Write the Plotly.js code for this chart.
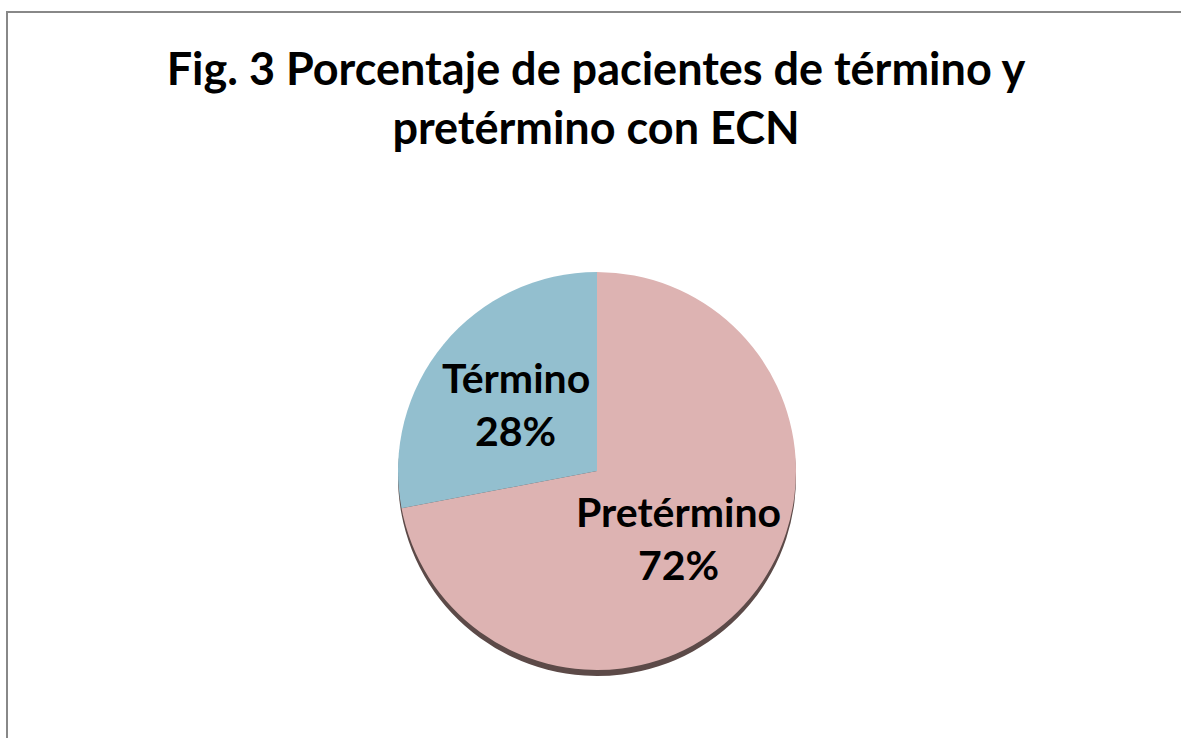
<!DOCTYPE html>
<html><head><meta charset="utf-8">
<script src="https://cdn.plot.ly/plotly-3.0.1.min.js"></script>
<style>html,body{margin:0;padding:0;background:#fff;overflow:hidden}#chart{width:1181px;height:738px}</style>
</head><body><div id="chart"></div>
<script>
// ---- data ----
const categories = ['Pretérmino', 'Término'];
const values = [72, 28];
const sliceColors = ['#ddb3b2', '#93bfcf'];
const shadowColor = '#5c4a48';
const titleText = 'Fig. 3 Porcentaje de pacientes de término y<br>pretérmino con ECN';

// ---- layout helpers ----
const W = 1181, H = 738;
const cx = 597, cy = 471, r = 199;
const px2x = p => p / W;
const py2y = p => 1 - p / H;
const domain = {x: [px2x(cx - r), px2x(cx + r)], y: [py2y(cy + r), py2y(cy - r)]};
const shadowOffset = 6;
const shadowDomain = {x: domain.x, y: [py2y(cy + r + shadowOffset), py2y(cy - r + shadowOffset)]};
const FONT = 'Lato, "Open Sans", sans-serif';

const total = values.reduce((a, b) => a + b, 0);
const annotations = [];
let cum = 0;
values.forEach((v, i) => {
  const mid = (cum + v / 2) / total * 2 * Math.PI; cum += v;
  const lx = cx + Math.sin(mid) * r * 0.53;
  const ly = cy - Math.cos(mid) * r * 0.53;
  const pct = Math.round(v / total * 100) + '%';
  const f = {family: FONT, size: 41, color: '#000', weight: 700};
  annotations.push({xref: 'paper', yref: 'paper', x: px2x(lx), y: py2y(ly), text: categories[i], showarrow: false, yshift: 26.5, font: f, xanchor: 'center', yanchor: 'middle'});
  annotations.push({xref: 'paper', yref: 'paper', x: px2x(lx), y: py2y(ly), text: pct, showarrow: false, yshift: -26.5, font: f, xanchor: 'center', yanchor: 'middle'});
});

const traces = [
  {type: 'pie', labels: categories, values: values, sort: false, direction: 'clockwise', rotation: 0,
   domain: shadowDomain, marker: {colors: categories.map(() => shadowColor), line: {width: 0}},
   textinfo: 'none', hoverinfo: 'skip', showlegend: false},
  {type: 'pie', labels: categories, values: values, sort: false, direction: 'clockwise', rotation: 0,
   domain: domain, marker: {colors: sliceColors, line: {width: 0}},
   textinfo: 'none', showlegend: false}
];

const layout = {
  width: W, height: H,
  margin: {l: 0, r: 0, t: 0, b: 0},
  paper_bgcolor: '#fff',
  showlegend: false,
  title: {text: titleText, x: 596 / W, xanchor: 'center', y: 1 - 85 / H, yanchor: 'top', yref: 'container',
          font: {family: FONT, size: 45, color: '#000', weight: 700}},
  annotations: annotations,
  shapes: [
    {type: 'line', xref: 'paper', yref: 'paper', x0: px2x(7), x1: px2x(7), y0: py2y(11), y1: py2y(740), line: {color: '#888', width: 2}},
    {type: 'line', xref: 'paper', yref: 'paper', x0: px2x(6), x1: px2x(1185), y0: py2y(12), y1: py2y(12), line: {color: '#888', width: 2}}
  ]
};

Plotly.newPlot('chart', traces, layout, {displayModeBar: false, staticPlot: true});
</script>
</body></html>
